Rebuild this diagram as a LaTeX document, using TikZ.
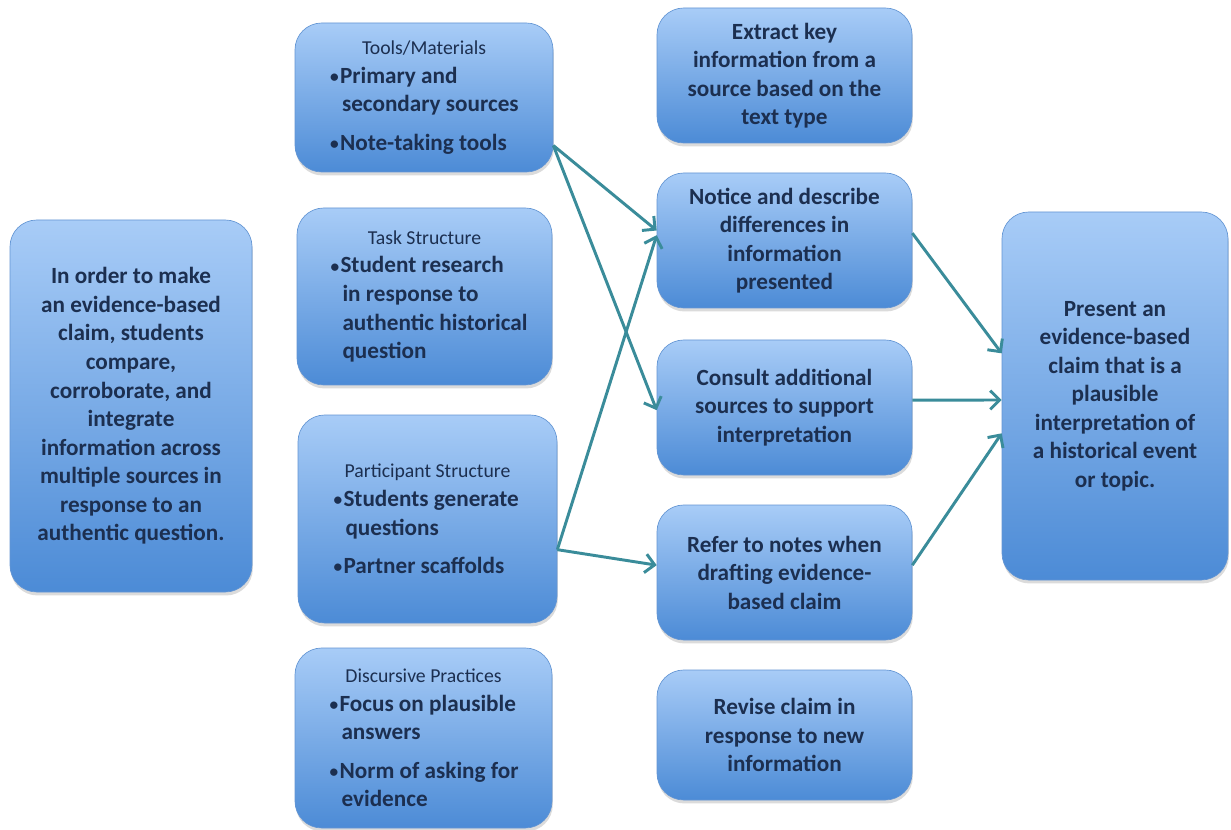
\documentclass[tikz,border=0pt]{standalone}
\usepackage{fontspec}
\setmainfont{Carlito}
\usepackage{xcolor}
\usetikzlibrary{arrows.meta,shadows}
\definecolor{boxtop}{RGB}{168,204,247}
\definecolor{boxbot}{RGB}{76,139,214}
\definecolor{boxline}{RGB}{100,150,212}
\definecolor{inknavy}{RGB}{28,47,80}
\definecolor{linkteal}{RGB}{58,140,154}

% heading and bullet lines inside the practice panels
\newcommand{\head}[1]{{\centering\fontsize{14.8}{21.4}\selectfont\mdseries #1\par}}
\newcommand{\dotmark}{\makebox[7.5pt][l]{\raisebox{0.5pt}{\fontsize{13}{13}\selectfont\textbullet}}}
\newcommand{\itm}[2][0pt]{\par\vspace{#1}\hangindent=21pt\hangafter=1\noindent\hspace*{12pt}\dotmark#2\par}

\tikzset{
  card/.style={rounded corners=20pt, draw=boxline, line width=0.5pt,
    top color=boxtop, bottom color=boxbot, inner sep=0pt,
    drop shadow={shadow xshift=0.6pt, shadow yshift=-2.6pt, opacity=0.28},
    text=inknavy, font=\fontsize{17.4}{21.4}\selectfont\bfseries, align=center},
  panel/.style={card, align=flush left, text width=165pt},
  link/.style={draw=linkteal, line width=2.2pt, -{Straight Barb[length=7pt,width=14pt]}}
}

\begin{document}
\begin{tikzpicture}[x=0.75pt, y=-0.75pt]
    \useasboundingbox[fill=white] (0,0) rectangle (1231,830);

    % goal
    \node[card, minimum width=181.5pt, minimum height=279pt] (goal) at (131,406)
        {In order to make\\an evidence-based\\claim, students\\compare,\\corroborate, and\\integrate\\information across\\multiple sources in\\response to an\\authentic question.};

    % practices
    \node[panel, minimum width=193.5pt, minimum height=111.75pt] (tools) at (424,97.5)
        {\head{Tools/Materials}\itm{Primary and\newline secondary sources}\itm[7.5pt]{Note-taking tools}};
    \node[panel, minimum width=191.25pt, minimum height=132.75pt] (task) at (424.5,296.5)
        {\head{Task Structure}\itm{Student research\newline in response to\newline authentic historical\newline question}};
    \node[panel, minimum width=194.25pt, minimum height=156pt] (part) at (427.5,519)
        {\head{Participant Structure}\itm{Students generate\newline questions}\itm[7.5pt]{Partner scaffolds}};
    \node[panel, minimum width=192.75pt, minimum height=135pt] (disc) at (423.5,738)
        {\head{Discursive Practices}\itm{Focus on plausible\newline answers}\itm[7.5pt]{Norm of asking for\newline evidence}};

    % steps
    \node[card, minimum width=191.25pt, minimum height=101.25pt] (extract) at (784.5,75.5)
        {Extract key\\information from a\\source based on the\\text type};
    \node[card, minimum width=191.25pt, minimum height=101.25pt] (notice) at (784.5,240.5)
        {Notice and describe\\differences in\\information\\presented};
    \node[card, minimum width=191.25pt, minimum height=101.25pt] (consult) at (784.5,407.5)
        {Consult additional\\sources to support\\interpretation};
    \node[card, minimum width=191.25pt, minimum height=101.25pt] (refer) at (784.5,572.5)
        {Refer to notes when\\drafting evidence-\\based claim};
    \node[card, minimum width=191.25pt, minimum height=97.5pt] (revise) at (784.5,735)
        {Revise claim in\\response to new\\information};

    % outcome
    \node[card, minimum width=169.5pt, minimum height=276pt] (claim) at (1115,396)
        {Present an\\evidence-based\\claim that is a\\plausible\\interpretation of\\a historical event\\or topic.};

    % links
    \draw[link] ([yshift=-36pt]tools.east) -- ([yshift=7.5pt]notice.west);
    \draw[link] ([yshift=-36pt]tools.east) -- ([yshift=-2pt]consult.west);
    \draw[link] ([yshift=-23pt]part.east) -- ([yshift=4pt]notice.west);
    \draw[link] ([yshift=-23pt]part.east) -- ([yshift=5.5pt]refer.west);
    \draw[link] ([yshift=5.5pt]notice.east) -- ([yshift=32pt]claim.west);
    \draw[link] ([yshift=5.5pt]consult.east) -- ([yshift=-3pt]claim.west);
    \draw[link] ([yshift=5.5pt]refer.east) -- ([yshift=-28pt]claim.west);
\end{tikzpicture}
\end{document}
